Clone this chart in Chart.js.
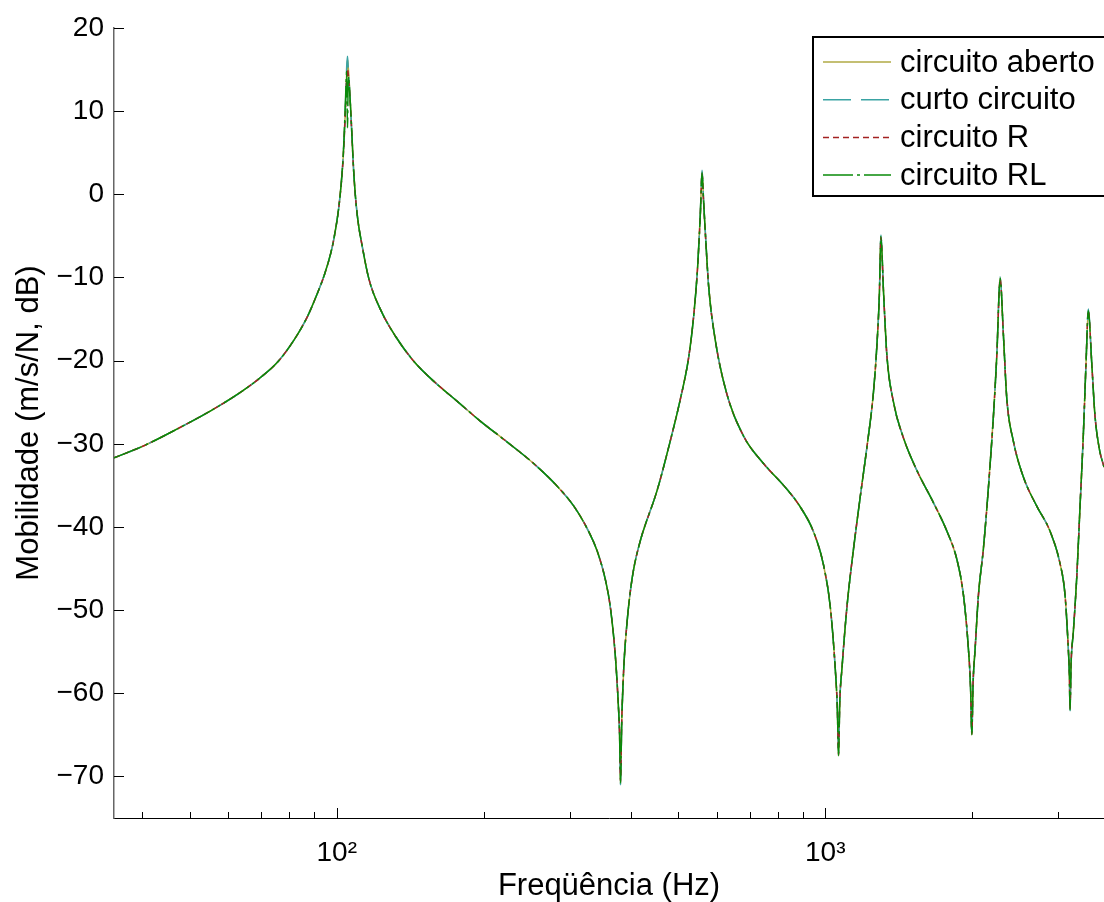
<!DOCTYPE html>
<html>
<head>
<meta charset="utf-8">
<title>Mobilidade</title>
<script src="https://cdn.jsdelivr.net/npm/chart.js@4.4.1/dist/chart.umd.min.js"></script>
<style>
  html, body { margin: 0; padding: 0; background: #fff; overflow: hidden; }
  #wrap { width: 1104px; height: 902px; }
</style>
</head>
<body>
<div id="wrap"><canvas id="mobChart" width="1104" height="902"></canvas></div>
<script>
// frequency points (Hz), shared by all four curves
const freqHz = [
  35.0, 40.4, 47.2, 55.3, 63.6, 69.9, 75.6, 81.8, 87.1, 91.3,
  94.2, 97.2, 98.7, 101.1, 102.7, 103.5, 104.3, 104.8, 105.2, 105.6,
  106.0, 106.8, 108.5, 110.2, 112.9, 116.4, 123.0, 132.0, 143.9, 158.1,
  176.5, 197.0, 223.4, 253.3, 282.7, 305.7, 325.6, 341.3, 354.9, 363.4,
  372.1, 376.9, 379.2, 381.0, 383.0, 386.8, 393.1, 399.3, 405.5, 418.5,
  425.0, 452.7, 481.9, 505.2, 525.3, 537.9, 548.1, 555.1, 559.5, 563.5,
  568.3, 577.2, 595.7, 629.5, 680.8, 748.2, 821.7, 889.0, 946.4, 992.0,
  1023.8, 1048.1, 1058.5, 1064.6, 1070.5, 1081.9, 1107.6, 1142.6, 1179.0, 1217.0,
  1255.0, 1276.0, 1290.0, 1300.0, 1315.8, 1337.1, 1379.3, 1445.7, 1539.8, 1665.6,
  1774.1, 1859.4, 1918.1, 1963.6, 1983.0, 1995.3, 2007.0, 2026.3, 2058.3, 2107.2,
  2157.3, 2208.8, 2244.5, 2280.0, 2315.4, 2353.0, 2427.2, 2544.0, 2709.5, 2884.6,
  3024.0, 3096.0, 3144.3, 3160.0, 3169.6, 3185.0, 3219.6, 3271.2, 3322.9, 3374.8,
  3417.9, 3455.1, 3511.1, 3565.9, 3638.9, 3720.0
];

// mobility (dB) for each circuit
const abertoDb = [
  -31.7, -30.2, -28.2, -26.0, -23.8, -22.0, -20.2, -17.5, -14.7, -11.9,
  -9.8, -7.1, -5.3, -1.3, 3.0, 6.4, 11.0, 14.6, 16.2, 15.2,
  13.8, 10.2, 2.0, -2.6, -6.4, -10.2, -13.9, -17.1, -20.1, -22.5,
  -24.9, -27.3, -29.8, -32.4, -35.1, -37.5, -40.2, -42.9, -46.4, -49.8,
  -55.8, -61.2, -64.8, -70.9, -63.8, -57.0, -51.3, -47.6, -45.0, -41.6,
  -40.3, -35.6, -29.6, -24.6, -19.6, -14.6, -8.6, -2.2, 2.7, -0.8,
  -4.7, -11.1, -17.6, -24.1, -29.1, -32.4, -35.0, -37.6, -40.6, -44.6,
  -49.6, -57.0, -61.8, -67.5, -61.2, -57.0, -49.6, -42.6, -36.4, -30.4,
  -23.8, -18.0, -12.3, -5.0, -11.7, -19.4, -25.0, -29.3, -33.2, -37.1,
  -40.5, -43.9, -48.2, -54.7, -59.2, -65.0, -58.8, -54.7, -48.2, -42.6,
  -35.3, -26.7, -19.4, -10.0, -16.9, -24.6, -29.7, -34.0, -37.5, -40.5,
  -44.4, -48.2, -54.7, -57.8, -62.0, -56.5, -52.6, -46.1, -37.5, -28.9,
  -20.3, -13.9, -20.3, -26.7, -30.6, -32.8
];
const curtoDb = [
  -31.7, -30.2, -28.2, -26.0, -23.8, -22.0, -20.2, -17.5, -14.7, -11.9,
  -9.8, -7.1, -5.3, -1.3, 3.1, 6.5, 11.3, 15.3, 16.6, 15.0,
  13.6, 10.1, 1.9, -2.6, -6.4, -10.2, -13.9, -17.1, -20.1, -22.5,
  -24.9, -27.3, -29.8, -32.4, -35.1, -37.5, -40.2, -42.9, -46.4, -49.8,
  -55.8, -61.2, -64.9, -71.0, -63.9, -57.0, -51.3, -47.6, -45.0, -41.6,
  -40.3, -35.6, -29.6, -24.6, -19.6, -14.6, -8.6, -2.1, 2.9, -0.7,
  -4.6, -11.1, -17.6, -24.1, -29.1, -32.4, -35.0, -37.6, -40.6, -44.6,
  -49.6, -57.0, -61.7, -67.3, -61.1, -57.0, -49.6, -42.6, -36.4, -30.4,
  -23.8, -18.0, -12.3, -4.9, -11.7, -19.4, -25.0, -29.3, -33.2, -37.1,
  -40.5, -43.9, -48.2, -54.7, -59.3, -65.1, -58.9, -54.7, -48.2, -42.6,
  -35.3, -26.7, -19.4, -9.9, -16.9, -24.6, -29.7, -34.0, -37.5, -40.5,
  -44.4, -48.2, -54.7, -57.9, -62.1, -56.6, -52.6, -46.1, -37.5, -28.9,
  -20.3, -13.8, -20.3, -26.7, -30.6, -32.8
];
const resistDb = [
  -31.7, -30.2, -28.2, -26.0, -23.8, -22.0, -20.2, -17.5, -14.7, -11.9,
  -9.8, -7.1, -5.3, -1.3, 2.9, 6.3, 10.8, 13.9, 15.1, 14.4,
  13.2, 10.0, 2.0, -2.6, -6.4, -10.2, -13.9, -17.1, -20.1, -22.5,
  -24.9, -27.3, -29.8, -32.4, -35.1, -37.5, -40.2, -42.9, -46.4, -49.8,
  -55.8, -61.2, -64.6, -70.6, -63.7, -57.0, -51.3, -47.6, -45.0, -41.6,
  -40.3, -35.6, -29.6, -24.6, -19.6, -14.6, -8.6, -2.3, 2.5, -0.9,
  -4.8, -11.1, -17.6, -24.1, -29.1, -32.4, -35.0, -37.6, -40.6, -44.6,
  -49.6, -57.0, -61.8, -67.4, -61.2, -57.0, -49.6, -42.6, -36.4, -30.4,
  -23.8, -18.0, -12.3, -5.2, -11.7, -19.4, -25.0, -29.3, -33.2, -37.1,
  -40.5, -43.9, -48.2, -54.7, -59.1, -64.9, -58.7, -54.7, -48.2, -42.6,
  -35.3, -26.7, -19.4, -10.2, -16.9, -24.6, -29.7, -34.0, -37.5, -40.5,
  -44.4, -48.2, -54.7, -57.7, -61.9, -56.4, -52.6, -46.1, -37.5, -28.9,
  -20.3, -14.0, -20.3, -26.7, -30.6, -32.8
];
const rlDb = [
  -31.7, -30.2, -28.2, -26.0, -23.8, -22.0, -20.2, -17.5, -14.7, -11.9,
  -9.8, -7.1, -5.3, -1.3, 3.1, 6.7, 12.0, 14.8, 8.0, 14.2,
  13.4, 10.2, 2.1, -2.6, -6.4, -10.2, -13.9, -17.1, -20.1, -22.5,
  -24.9, -27.3, -29.8, -32.4, -35.1, -37.5, -40.2, -42.9, -46.4, -49.8,
  -55.8, -61.2, -64.8, -70.8, -63.8, -57.0, -51.3, -47.6, -45.0, -41.6,
  -40.3, -35.6, -29.6, -24.6, -19.6, -14.6, -8.6, -2.2, 2.6, -0.8,
  -4.7, -11.1, -17.6, -24.1, -29.1, -32.4, -35.0, -37.6, -40.6, -44.6,
  -49.6, -57.0, -61.8, -67.5, -61.2, -57.0, -49.6, -42.6, -36.4, -30.4,
  -23.8, -18.0, -12.3, -5.1, -11.7, -19.4, -25.0, -29.3, -33.2, -37.1,
  -40.5, -43.9, -48.2, -54.7, -59.2, -65.0, -58.8, -54.7, -48.2, -42.6,
  -35.3, -26.7, -19.4, -10.1, -16.9, -24.6, -29.7, -34.0, -37.5, -40.5,
  -44.4, -48.2, -54.7, -57.8, -62.0, -56.5, -52.6, -46.1, -37.5, -28.9,
  -20.3, -14.0, -20.3, -26.7, -30.6, -32.8
];

const seriesNames = ["circuito aberto", "curto circuito", "circuito R", "circuito RL"];
const yTickValues = [-70, -60, -50, -40, -30, -20, -10, 0, 10, 20];
const xTickValues = [40, 50, 60, 70, 80, 90, 100, 200, 300, 400, 500, 600, 700, 800, 900, 1000, 2000, 3000];
const xTickLabels = { 100: "10\u00B2", 1000: "10\u00B3" };

const FONT = '"Liberation Sans", Arial, Helvetica, sans-serif';

function toPoints(values) {
    return freqHz.map((f, i) => ({ x: f, y: values[i] }));
}

// MATLAB style ticks pointing into the axes
const inwardTicks = {
    id: "inwardTicks",
    afterDatasetsDraw(chart) {
        const { ctx, chartArea, scales } = chart;
        ctx.save();
        ctx.strokeStyle = "#000";
        ctx.lineWidth = 1;
        xTickValues.forEach(v => {
            const px = Math.round(scales.x.getPixelForValue(v)) + 0.5;
            const len = xTickLabels[v] ? 10 : 6;
            ctx.beginPath();
            ctx.moveTo(px, chartArea.bottom);
            ctx.lineTo(px, chartArea.bottom - len);
            ctx.stroke();
        });
        yTickValues.forEach(v => {
            const py = Math.round(scales.y.getPixelForValue(v)) + 0.5;
            ctx.beginPath();
            ctx.moveTo(chartArea.left, py);
            ctx.lineTo(chartArea.left + 10, py);
            ctx.stroke();
        });
        ctx.restore();
    }
};

// boxed legend in the upper right corner (cut by the figure edge)
const legendBox = {
    id: "legendBox",
    afterDraw(chart) {
        const ctx = chart.ctx;
        ctx.save();
        ctx.fillStyle = "#fff";
        ctx.fillRect(813, 37, 320, 159);
        ctx.strokeStyle = "#000";
        ctx.lineWidth = 2;
        ctx.strokeRect(813, 37, 320, 159);
        ctx.font = "31px " + FONT;
        ctx.textBaseline = "middle";
        chart.data.datasets.forEach((ds, i) => {
            const y = 62 + i * 37.7;
            ctx.strokeStyle = ds.borderColor;
            ctx.lineWidth = 1.5;
            ctx.setLineDash(ds.borderDash);
            ctx.beginPath();
            ctx.moveTo(823, y);
            ctx.lineTo(891, y);
            ctx.stroke();
            ctx.setLineDash([]);
            ctx.fillStyle = "#000";
            ctx.fillText(ds.label, 900, y + 1);
        });
        ctx.restore();
    }
};

const lineStyle = {
    pointRadius: 0,
    borderWidth: 1.5,
    fill: false,
    cubicInterpolationMode: "monotone"
};

new Chart(document.getElementById("mobChart"), {
    type: "line",
    data: {
        datasets: [
            { ...lineStyle, label: seriesNames[0], data: toPoints(abertoDb), borderColor: "#b0aa45", borderDash: [], order: 4 },
            { ...lineStyle, label: seriesNames[1], data: toPoints(curtoDb), borderColor: "#3aa3a3", borderDash: [28, 10], order: 3 },
            { ...lineStyle, label: seriesNames[2], data: toPoints(resistDb), borderColor: "#a32222", borderDash: [6, 4], order: 2 },
            { ...lineStyle, label: seriesNames[3], data: toPoints(rlDb), borderColor: "#0a8a0a", borderDash: [30, 4, 3, 4], order: 1 }
        ]
    },
    options: {
        responsive: false,
        animation: false,
        layout: { padding: { top: 28, right: 0, left: 0, bottom: 0 } },
        plugins: {
            legend: { display: false },
            tooltip: { enabled: false }
        },
        scales: {
            x: {
                type: "logarithmic",
                min: 35,
                max: 3720,
                afterBuildTicks: s => { s.ticks = xTickValues.map(v => ({ value: v })); },
                afterFit: s => { s.height = 84; },
                grid: { display: false },
                border: { display: true, color: "#000", width: 1 },
                ticks: {
                    autoSkip: false,
                    maxRotation: 0,
                    padding: 10,
                    color: "#000",
                    font: { family: FONT, size: 28 },
                    callback: v => xTickLabels[v] || ""
                },
                title: {
                    display: true,
                    text: "Freqüência (Hz)",
                    color: "#000",
                    font: { family: FONT, size: 31, lineHeight: 1 },
                    padding: { top: 0, bottom: 0 }
                }
            },
            y: {
                min: -75,
                max: 20,
                afterBuildTicks: s => { s.ticks = yTickValues.map(v => ({ value: v })); },
                afterFit: s => { s.width = 114; },
                grid: { display: false },
                border: { display: true, color: "#666", width: 1.5 },
                ticks: {
                    padding: 2,
                    color: "#000",
                    font: { family: FONT, size: 28 },
                    callback: v => (v < 0 ? "\u2212" + Math.abs(v) : String(v))
                },
                title: {
                    display: true,
                    text: "Mobilidade (m/s/N, dB)",
                    color: "#000",
                    font: { family: FONT, size: 31 },
                    padding: { top: 11, bottom: 0 }
                }
            }
        }
    },
    plugins: [inwardTicks, legendBox]
});
</script>
</body>
</html>
